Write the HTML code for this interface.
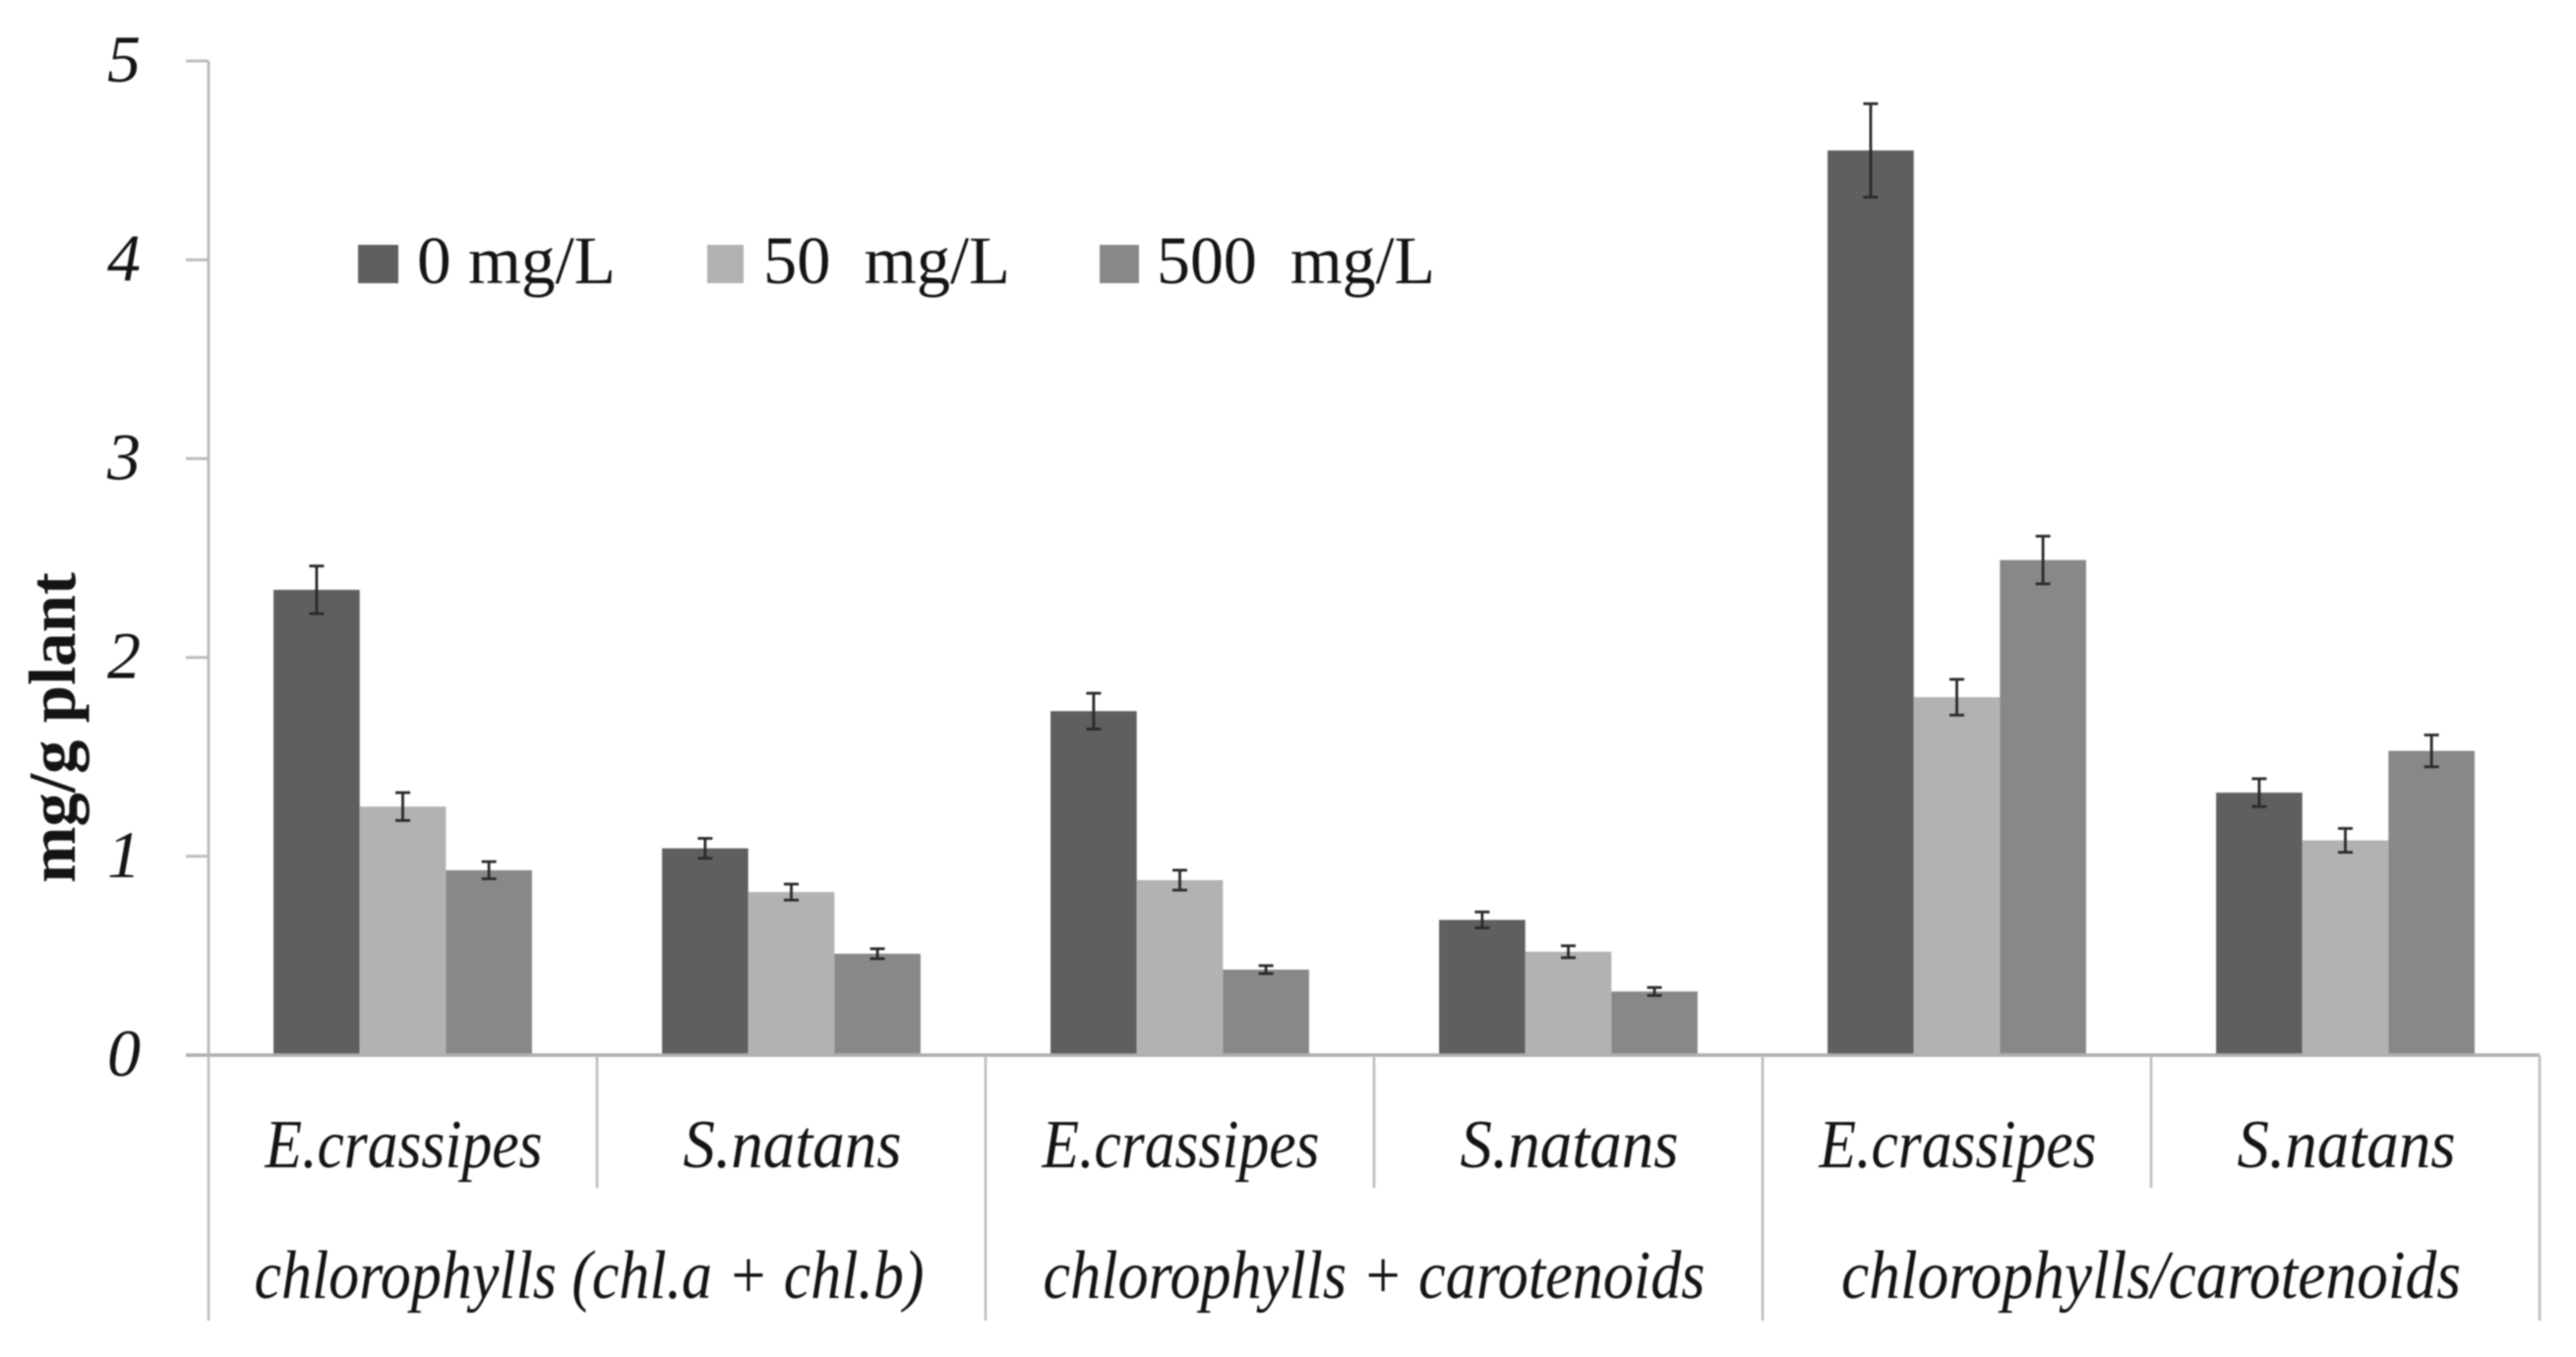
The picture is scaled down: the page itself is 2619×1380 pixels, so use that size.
<!DOCTYPE html>
<html lang="en">
<head>
<meta charset="utf-8">
<title>Pigment content chart</title>
<style>
  html, body { margin: 0; padding: 0; background: #fff; }
  body { width: 2619px; height: 1380px; overflow: hidden; }
  svg { display: block; filter: blur(0.9px); }
  text { font-family: "Liberation Serif", serif; fill: #141414; }
</style>
</head>
<body>
<svg id="chart" xmlns="http://www.w3.org/2000/svg" width="2619" height="1380" viewBox="0 0 2619 1380"></svg>
<script>
const speciesLabels = ["E.crassipes", "S.natans", "E.crassipes", "S.natans", "E.crassipes", "S.natans"];
const pigmentGroups = ["chlorophylls (chl.a + chl.b)", "chlorophylls + carotenoids", "chlorophylls/carotenoids"];
const seriesNames = ["0 mg/L", "50  mg/L", "500  mg/L"];
const values0 = [2.34, 1.04, 1.73, 0.68, 4.55, 1.32];
const values50 = [1.25, 0.82, 0.88, 0.52, 1.80, 1.08];
const values500 = [0.93, 0.51, 0.43, 0.32, 2.49, 1.53];
const errors0 = [0.12, 0.05, 0.09, 0.04, 0.235, 0.07];
const errors50 = [0.07, 0.04, 0.05, 0.03, 0.09, 0.06];
const errors500 = [0.043, 0.025, 0.02, 0.02, 0.12, 0.08];
const yTicks = [0, 1, 2, 3, 4, 5];

const NS = "http://www.w3.org/2000/svg";
const svg = document.getElementById("chart");
const X0 = 212, BAND = 395, Y0 = 1073, UNIT = 202.2, BAR = 87.6;
const COLORS = ["#5f5f5f", "#b2b2b2", "#888888"];
const AXIS = "#bdbdbd";
const seriesValues = [values0, values50, values500];
const seriesErrors = [errors0, errors50, errors500];
const labelWidth = {
  "E.crassipes": 282, "S.natans": 222,
  "chlorophylls (chl.a + chl.b)": 681,
  "chlorophylls + carotenoids": 673,
  "chlorophylls/carotenoids": 630
};
const labelShift = {
  "chlorophylls (chl.a + chl.b)": -8,
  "chlorophylls + carotenoids": 0,
  "chlorophylls/carotenoids": 0
};

function xBand(i) { return X0 + i * BAND; }
function yScale(v) { return Y0 - v * UNIT; }
function make(tag, attrs, parent) {
  const el = document.createElementNS(NS, tag);
  for (const k in attrs) el.setAttribute(k, attrs[k]);
  (parent || svg).appendChild(el);
  return el;
}
function line(x1, y1, x2, y2, stroke, w, parent) {
  return make("line", { x1: x1, y1: y1, x2: x2, y2: y2, stroke: stroke, "stroke-width": w }, parent);
}

// y axis
const yAxisLine = line(X0, yScale(5), X0, Y0, AXIS, 3);



yTicks.forEach(function (t) {
  const tick = line(X0 - 23, yScale(t), X0, yScale(t), AXIS, 3);
  
  
  const lab = make("text", { x: 143, y: yScale(t) + 21, "text-anchor": "end", "font-size": 68, "font-style": "italic" });
  lab.textContent = String(t);
  
  
});

// y axis title
const yTitle = make("text", {
  transform: "translate(76 740) rotate(-90)", "text-anchor": "middle",
  "font-size": 68, "font-weight": "bold", textLength: 316, lengthAdjust: "spacingAndGlyphs", fill: "#111"
});
yTitle.textContent = "mg/g plant";



// bars and error bars
speciesLabels.forEach(function (name, i) {
  const center = xBand(i) + BAND / 2;
  seriesValues.forEach(function (vals, s) {
    const x = center + (s - 1.5) * BAR;
    const y = yScale(vals[i]);
    const bar = make("rect", { x: x, y: y, width: BAR, height: Y0 - y, fill: COLORS[s] });
    
    
  });
  seriesValues.forEach(function (vals, s) {
    const cx = center + (s - 1) * BAR;
    const hi = yScale(vals[i] + seriesErrors[s][i]);
    const lo = yScale(vals[i] - seriesErrors[s][i]);
    const g = make("g", { stroke: "#2e2e2e", "stroke-width": 2.8 });
    
    
    line(cx, hi, cx, lo, "#2a2a2a", 2.8, g);
    line(cx - 7.5, hi, cx + 7.5, hi, "#2a2a2a", 2.8, g);
    line(cx - 7.5, lo, cx + 7.5, lo, "#2a2a2a", 2.8, g);
  });
});

// x axis
const xAxisLine = line(X0 - 23, Y0, xBand(6), Y0, "#aeaeae", 3.5);



// category dividers
for (let i = 0; i <= 6; i++) {
  const major = i % 2 === 0;
  const div = line(xBand(i), Y0, xBand(i), major ? 1343 : 1208, AXIS, 2.6);
  
  
}

// category labels
speciesLabels.forEach(function (name, i) {
  const lab = make("text", {
    x: xBand(i) + BAND / 2 + 1, y: 1187, "text-anchor": "middle", "font-size": 70, "font-style": "italic",
    textLength: labelWidth[name], lengthAdjust: "spacingAndGlyphs"
  });
  lab.textContent = name;
  
  
});
pigmentGroups.forEach(function (name, i) {
  const lab = make("text", {
    x: xBand(2 * i) + BAND + labelShift[name], y: 1320, "text-anchor": "middle", "font-size": 70, "font-style": "italic",
    textLength: labelWidth[name], lengthAdjust: "spacingAndGlyphs"
  });
  lab.textContent = name;
  
  
});

// legend
const legendSwatchX = [364, 719, 1118];
const legendSwatchW = [41, 37, 40];
const legendTextX = [424, 776, 1176];
const legendTextW = [202, 251, 283];
seriesNames.forEach(function (name, s) {
  const sw = make("rect", { x: legendSwatchX[s], y: 249, width: legendSwatchW[s], height: 39, fill: COLORS[s] });
  
  
  const t = make("text", {
    x: legendTextX[s], y: 288, "font-size": 69, "xml:space": "preserve",
    textLength: legendTextW[s], lengthAdjust: "spacingAndGlyphs"
  });
  t.style.whiteSpace = "pre";
  t.textContent = name;
  
  
});
</script>
</body>
</html>
